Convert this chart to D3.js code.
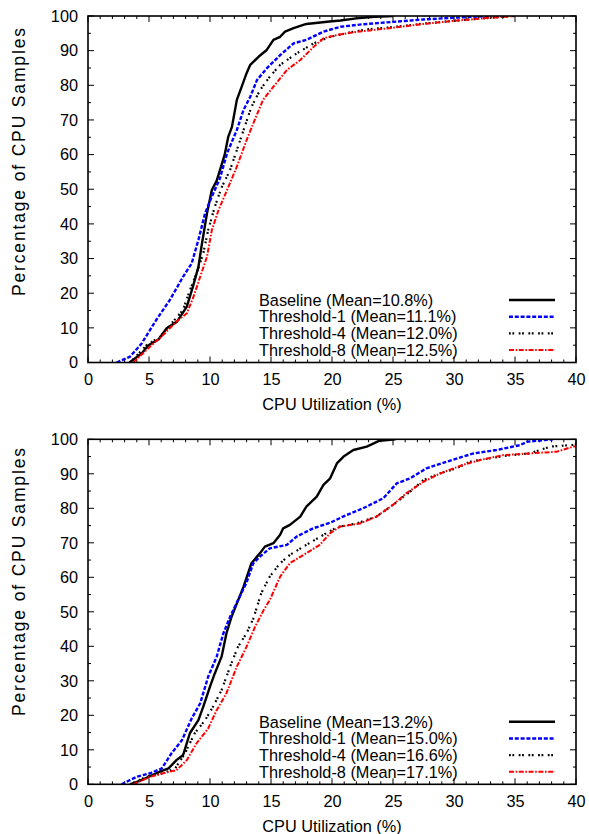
<!DOCTYPE html>
<html>
<head>
<meta charset="utf-8">
<script src="https://cdn.jsdelivr.net/npm/d3@7"></script>
<style>
  html, body { margin: 0; padding: 0; background: #fff; }
  svg { display: block; }
  text { font-family: "Liberation Sans", Arial, Helvetica, sans-serif; fill: #000; }
</style>
</head>
<body>
<svg id="chart" width="589" height="834"></svg>
<script>
// ---------------- DATA ----------------
const xTicks = [0, 5, 10, 15, 20, 25, 30, 35, 40];
const yTicks = [0, 10, 20, 30, 40, 50, 60, 70, 80, 90, 100];
const xLabel = "CPU Utilization (%)";
const yLabel = "Percentage of CPU Samples";
const seriesNames = ["Baseline", "Threshold-1", "Threshold-4", "Threshold-8"];

// Top panel
const topMeans = ["10.8", "11.1", "12.0", "12.5"];
const topBaseline = [[3.4,0],[4.4,2.6],[4.95,5],[5.8,6.7],[6.45,9.9],[7.3,11.8],[8.1,16.1],[8.6,21.9],[9.05,27.6],[9.3,33.4],[9.75,43],[10.15,49.8],[10.55,52.5],[11.2,59.9],[11.5,65.2],[11.8,68],[12.2,75.8],[12.6,79.6],[13.0,83.5],[13.3,85.9],[14.0,88.3],[14.65,90.2],[15.2,93.1],[15.75,94],[16.15,95.5],[16.85,96.5],[17.9,97.7],[19.8,98.4],[20.7,98.7],[22,99.3],[23.5,99.8],[25,100]];
const topThr1 = [[2.35,0],[3.45,1.7],[4.4,5.5],[5.6,12.3],[6.7,18],[7.8,24.8],[8.5,28.6],[9.05,35.4],[9.6,43.1],[10.15,47.9],[10.8,53],[11.4,60.4],[12.2,67.1],[12.75,72.9],[13.3,76.7],[13.85,81.5],[14.65,84.9],[15.75,88.7],[16.85,92.1],[17.9,93.1],[19.3,95.5],[20.7,96.9],[22.5,97.6],[25,98.3],[27.5,99],[30,99.5],[33,100]];
const topThr4 = [[3.45,0],[4.8,5],[5.9,7.4],[6.85,11.3],[7.8,15.2],[8.35,20.9],[8.9,25.7],[9.45,31.5],[9.85,38.2],[10.4,45],[10.95,50.5],[11.65,55.6],[12.2,61.3],[12.75,67.1],[13.4,73.8],[14.1,78.6],[14.9,82.5],[15.75,85.9],[17.1,89.2],[18.5,92.1],[19.85,94],[21.5,95.3],[23,96.2],[25,96.8],[27.5,97.8],[30,98.6],[33,99.5],[35,100]];
const topThr8 = [[3.7,0],[5.1,4.6],[6.15,7.9],[7.25,11.8],[8.1,14.2],[8.65,19],[9.2,24.8],[9.75,30.5],[10.15,38.2],[10.7,44],[11.4,49.8],[12.2,56.5],[13.0,64.2],[13.55,69],[14.35,75.8],[15.2,79.6],[16.3,84.4],[17.4,87.3],[18.5,91.1],[19.3,93.6],[20.4,94.5],[22,95.4],[23.5,96],[25,96.6],[27.5,97.7],[30,98.6],[33,99.5],[35,100]];

// Bottom panel
const botMeans = ["13.2", "15.0", "16.6", "17.1"];
const botBaseline = [[3.45,0],[4.4,1.2],[5.9,3.7],[6.6,4.6],[7.25,7],[7.8,8.5],[8.35,14.8],[9.05,18.6],[9.45,22.5],[10.0,28.3],[10.4,32.2],[10.95,37],[11.35,43.8],[11.75,48.4],[12.1,51.5],[12.75,57.3],[13.4,64.1],[14.1,67],[14.5,68.9],[15.2,69.9],[15.75,72.3],[16.0,74.2],[16.55,75.2],[17.4,77.6],[17.9,80.5],[18.75,83.4],[19.3,86.8],[19.85,88.7],[20.4,93],[20.95,95],[21.75,96.9],[22.85,97.9],[23.9,99.6],[25.2,100]];
const botThr1 = [[2.75,0],[4.0,2.2],[5.1,3.2],[6.05,4.6],[6.85,9],[7.7,12.8],[8.5,19.1],[9.2,23.5],[9.85,31.2],[10.55,37],[11.1,43.8],[11.65,48.6],[12.3,53.4],[13.0,58.5],[13.55,64.1],[14.1,66],[14.9,68.4],[16.3,69.4],[17.1,71.8],[18.45,74.2],[19.85,75.8],[20.9,77.6],[22.55,80],[24.2,82.9],[25.3,87.2],[26.4,88.7],[27.75,91.6],[29.4,93.5],[30.75,95],[31.6,95.9],[33.5,96.9],[35.4,98.3],[36,99.3],[38.1,100]];
const botThr4 = [[3.45,0],[4.8,2.2],[6.15,3.2],[7.15,4.6],[7.95,9],[8.75,14.8],[9.6,18.6],[10.25,22.5],[10.95,27.3],[11.65,34.1],[12.3,39.9],[13.0,43.8],[13.55,48],[14.2,55.4],[14.9,60.2],[15.75,64.1],[16.55,66.5],[17.9,69.4],[19.3,72.3],[20.4,74.5],[22.0,75.6],[23.65,77.6],[25.0,81],[26.4,84.8],[27.5,88.2],[28.85,90.1],[30.2,91.6],[31.3,93.5],[32.95,94.5],[34.6,95.4],[36.2,95.9],[37.9,97.9],[39.5,98.3],[40,98.5]];
const botThr8 = [[3.7,0],[5.1,2.2],[6.15,3.2],[7.25,4.1],[8.1,7],[8.9,11.9],[9.85,16.2],[10.55,21.5],[11.35,26.4],[12.2,34.1],[13.0,39.9],[13.7,45.7],[14.4,50.5],[14.9,53.4],[15.75,60.2],[16.55,64.1],[17.9,67],[19.0,69.4],[19.85,72.8],[20.65,74.7],[22.3,75.6],[23.65,77.6],[25.0,81],[26.1,84.4],[27.5,87.7],[28.85,90.1],[30.75,92.6],[32.15,94],[34.0,95.4],[36.2,95.9],[38.4,96.4],[39.8,97.9],[40,98]];

// ---------------- STYLES ----------------
const styles = [
  { color: "#000000", width: 2.4, dash: null },
  { color: "#0000ff", width: 2.4, dash: "4,1.8" },
  { color: "#000000", width: 2.2, dash: "1.8,1.6,1.8,4.5" },
  { color: "#ff0000", width: 2.0, dash: "5,1.6,1.6,1.6" }
];

const svg = d3.select("#chart");
const FONT = 16.3;

function drawPanel(id, top, bottom, series, means, yLabelCenter) {
  const left = 88, right = 576;
  const x = d3.scaleLinear().domain([0, 40]).range([left, right]);
  const y = d3.scaleLinear().domain([0, 100]).range([bottom, top]);
  const g = svg.append("g");

  g.append("clipPath").attr("id", "clip" + id)
    .append("rect").attr("x", left).attr("y", top).attr("width", right - left).attr("height", bottom - top);

  const tickG = g.append("g").attr("stroke", "#000").attr("stroke-width", 1);
  d3.range(0, 41, 1).forEach(v => {
    const major = v % 5 === 0;
    const len = major ? 6 : 3;
    tickG.append("line").attr("x1", x(v)).attr("x2", x(v)).attr("y1", bottom).attr("y2", bottom - len);
    tickG.append("line").attr("x1", x(v)).attr("x2", x(v)).attr("y1", top).attr("y2", top + len);
  });
  d3.range(0, 101, 5).forEach(v => {
    const major = v % 10 === 0;
    const len = major ? 6 : 3;
    tickG.append("line").attr("y1", y(v)).attr("y2", y(v)).attr("x1", left).attr("x2", left + len);
    tickG.append("line").attr("y1", y(v)).attr("y2", y(v)).attr("x1", right).attr("x2", right - len);
  });

  const xAxis = g.append("g").attr("transform", `translate(0,${bottom})`)
    .call(d3.axisBottom(x).tickValues(xTicks).tickSize(0).tickPadding(11));
  xAxis.select(".domain").remove();
  xAxis.selectAll("text").attr("font-size", FONT).attr("font-family", "Liberation Sans, Arial, sans-serif").attr("fill", "#000");

  const yAxis = g.append("g").attr("transform", `translate(${left},0)`)
    .call(d3.axisLeft(y).tickValues(yTicks).tickSize(0).tickPadding(10));
  yAxis.select(".domain").remove();
  yAxis.selectAll("text").attr("font-size", FONT).attr("font-family", "Liberation Sans, Arial, sans-serif").attr("fill", "#000");

  const line = d3.line().x(d => x(d[0])).y(d => y(d[1]));
  const curveG = g.append("g").attr("clip-path", `url(#clip${id})`);
  series.forEach((s, i) => {
    const st = styles[i];
    curveG.append("path").datum(s).attr("d", line)
      .attr("fill", "none").attr("stroke", st.color).attr("stroke-width", st.width)
      .attr("stroke-dasharray", st.dash).attr("stroke-linejoin", "round");
  });

  g.append("rect").attr("x", left).attr("y", top).attr("width", right - left).attr("height", bottom - top)
    .attr("fill", "none").attr("stroke", "#000").attr("stroke-width", 1.6);

  const rowOffsets = [62.5, 45.8, 29.2, 12.5];
  seriesNames.forEach((name, i) => {
    const yy = bottom - rowOffsets[i];
    g.append("text").attr("x", 259).attr("y", yy).attr("dy", "0.35em")
      .attr("font-size", FONT).text(`${name} (Mean=${means[i]}%)`);
    const st = styles[i];
    g.append("line").attr("x1", 509).attr("x2", 555).attr("y1", yy).attr("y2", yy)
      .attr("stroke", st.color).attr("stroke-width", st.width).attr("stroke-dasharray", st.dash);
  });

  g.append("text").attr("x", (left + right) / 2).attr("y", bottom + 42).attr("dy", "0.35em")
    .attr("text-anchor", "middle").attr("font-size", FONT).text(xLabel);
  g.append("text").attr("transform", `translate(19,${yLabelCenter}) rotate(-90)`)
    .attr("dy", "0.35em").attr("text-anchor", "middle").attr("font-size", 17.5)
    .attr("textLength", 268).attr("lengthAdjust", "spacing").text(yLabel);
}

drawPanel("a", 16, 362.5, [topBaseline, topThr1, topThr4, topThr8], topMeans, 162);
drawPanel("b", 439.3, 784.3, [botBaseline, botThr1, botThr4, botThr8], botMeans, 582);
</script>
</body>
</html>
